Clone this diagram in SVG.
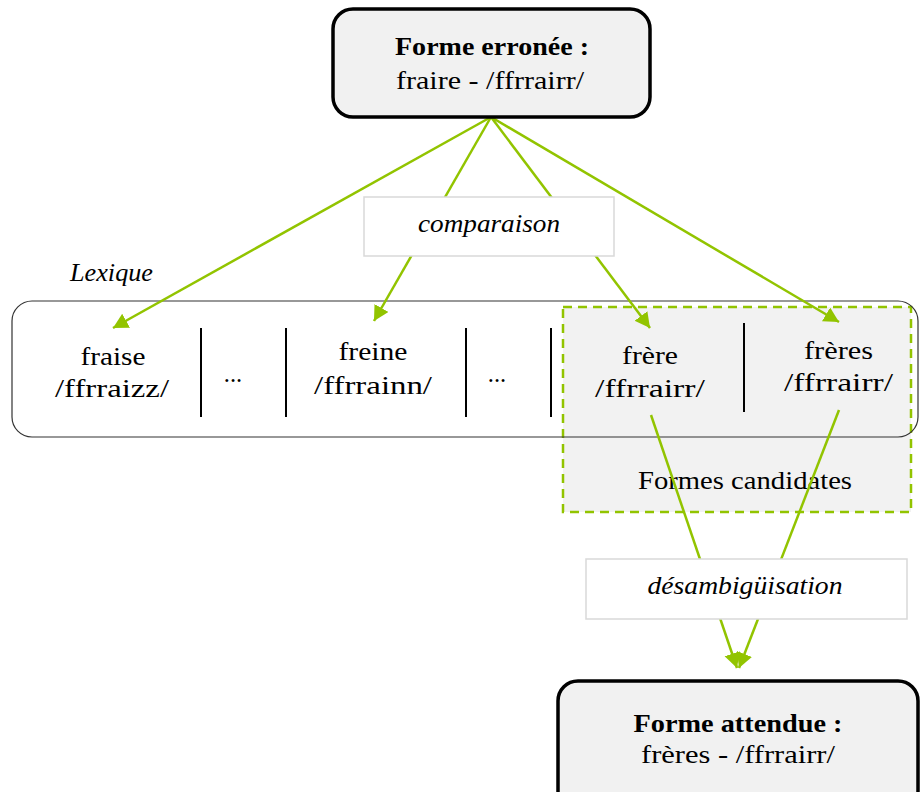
<svg xmlns="http://www.w3.org/2000/svg" width="920" height="792" viewBox="0 0 920 792">
<defs>
<style>
.t{font-family:"Liberation Serif","DejaVu Serif",serif;font-size:24.5px;fill:#000;text-anchor:middle}
.b{font-weight:bold}
.i{font-style:italic}
.main{fill:#f1f1f1;stroke:#000;stroke-width:3.5}
.lab{fill:#fff;stroke:#d9d9d9;stroke-width:1.5}
.sep{stroke:#000;stroke-width:2}
.con{stroke:#92c400;stroke-width:2.5;fill:none}
</style>
<marker id="ah" markerUnits="userSpaceOnUse" markerWidth="18" markerHeight="18" refX="15" refY="8" orient="auto" viewBox="0 0 18 18">
<path d="M0,0 L15,8 L0,16 z" fill="#92c400"/>
</marker>
</defs>
<rect width="920" height="792" fill="#fff"/>

<g id="lexique">
<rect x="12" y="301" width="906" height="136" rx="20" fill="#fff" stroke="none"/>
<g id="candidates">
<rect x="563" y="307" width="348" height="205" fill="#f2f2f2" stroke="#92c400" stroke-width="2.5" stroke-dasharray="9,6"/>
<text class="t" x="745" y="489" textLength="214" lengthAdjust="spacingAndGlyphs">Formes candidates</text>
</g>
<rect x="12" y="301" width="906" height="136" rx="20" fill="none" stroke="#333" stroke-width="1.2"/>
<text class="t i" x="111.5" y="281" textLength="83" lengthAdjust="spacingAndGlyphs">Lexique</text>
<line class="sep" x1="201" y1="328" x2="201" y2="417"/>
<line class="sep" x1="286" y1="328" x2="286" y2="417"/>
<line class="sep" x1="466" y1="328" x2="466" y2="417"/>
<line class="sep" x1="551" y1="328" x2="551" y2="417"/>
<line class="sep" x1="744" y1="323" x2="744" y2="412"/>
</g>

<g id="fraise">
<text class="t" x="113" y="365" textLength="65" lengthAdjust="spacingAndGlyphs">fraise</text>
<text class="t" x="112" y="397" textLength="114" lengthAdjust="spacingAndGlyphs">/ffrraizz/</text>
</g>
<g id="dots1"><text class="t" x="233" y="382">...</text></g>
<g id="freine">
<text class="t" x="373" y="360" textLength="69" lengthAdjust="spacingAndGlyphs">freine</text>
<text class="t" x="373" y="394" textLength="118" lengthAdjust="spacingAndGlyphs">/ffrrainn/</text>
</g>
<g id="dots2"><text class="t" x="497" y="382">...</text></g>
<g id="frere">
<text class="t" x="650" y="364" textLength="56" lengthAdjust="spacingAndGlyphs">frère</text>
<text class="t" x="650" y="397" textLength="110" lengthAdjust="spacingAndGlyphs">/ffrrairr/</text>
</g>
<g id="freres">
<text class="t" x="838.5" y="359" textLength="69" lengthAdjust="spacingAndGlyphs">frères</text>
<text class="t" x="838.5" y="391" textLength="109" lengthAdjust="spacingAndGlyphs">/ffrrairr/</text>
</g>

<g id="connectors">
<line class="con" x1="491" y1="117" x2="113" y2="328" marker-end="url(#ah)"/>
<line class="con" x1="491" y1="117" x2="374" y2="321" marker-end="url(#ah)"/>
<line class="con" x1="491" y1="117" x2="650" y2="328" marker-end="url(#ah)"/>
<line class="con" x1="491" y1="117" x2="839" y2="322" marker-end="url(#ah)"/>
<line class="con" x1="651" y1="415" x2="737" y2="668" marker-end="url(#ah)"/>
<line class="con" x1="839" y1="410" x2="739" y2="668" marker-end="url(#ah)"/>
</g>

<g id="comparaison">
<rect class="lab" x="364" y="197" width="250" height="59"/>
<text class="t i" x="489" y="232" textLength="142" lengthAdjust="spacingAndGlyphs">comparaison</text>
</g>
<g id="desambiguisation">
<rect class="lab" x="586" y="559" width="321" height="60"/>
<text class="t i" x="745" y="594" textLength="195" lengthAdjust="spacingAndGlyphs">désambigüisation</text>
</g>

<g id="forme-erronee">
<rect class="main" x="333" y="9" width="317" height="108" rx="20"/>
<text class="t b" x="492" y="55" textLength="194" lengthAdjust="spacingAndGlyphs">Forme erronée :</text>
<text class="t" x="490" y="89" textLength="188" lengthAdjust="spacingAndGlyphs">fraire - /ffrrairr/</text>
</g>
<g id="forme-attendue">
<rect class="main" x="558" y="681" width="360" height="130" rx="20"/>
<text class="t b" x="738" y="732" textLength="209" lengthAdjust="spacingAndGlyphs">Forme attendue :</text>
<text class="t" x="738" y="763" textLength="194" lengthAdjust="spacingAndGlyphs">frères - /ffrrairr/</text>
</g>
</svg>
